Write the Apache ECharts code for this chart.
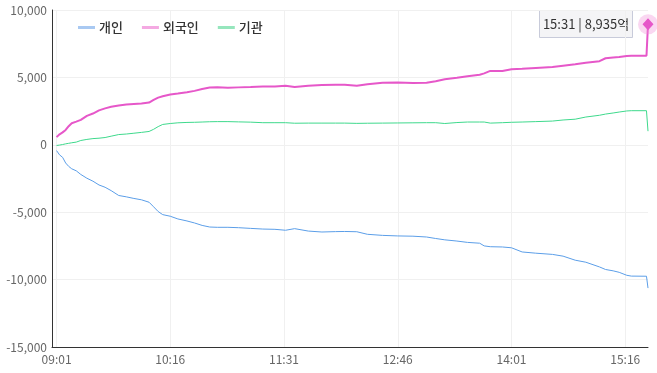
<!DOCTYPE html>
<html><head><meta charset="utf-8">
<script src="https://cdn.jsdelivr.net/npm/echarts@6/dist/echarts.min.js"></script>
<style>html,body{margin:0;padding:0;background:#fff}#c{width:657px;height:373px}</style>
</head><body><div id="c"></div>
<script>
// sampled readings (억 원), cumulative net buying
const sampleTimes = ['09:01','09:03','09:05','09:07','09:09','09:11','09:14','09:17','09:21','09:25','09:29','09:33','09:37','09:42','09:47','09:52','09:57','10:02','10:05','10:08','10:11','10:16','10:21','10:27','10:32','10:37','10:42','10:47','10:54','11:01','11:09','11:17','11:25','11:32','11:38','11:47','11:56','12:05','12:11','12:19','12:26','12:36','12:46','12:56','13:05','13:11','13:17','13:25','13:32','13:40','13:43','13:47','13:55','14:01','14:08','14:17','14:28','14:35','14:43','14:50','14:59','15:03','15:08','15:12','15:17','15:20','15:30','15:31'];
const personal = [-430,-750,-930,-1350,-1600,-1780,-1930,-2200,-2480,-2700,-2980,-3150,-3400,-3760,-3860,-3980,-4080,-4260,-4600,-4950,-5180,-5300,-5500,-5650,-5800,-5980,-6100,-6120,-6120,-6150,-6200,-6250,-6270,-6340,-6220,-6400,-6470,-6440,-6430,-6450,-6640,-6720,-6760,-6780,-6840,-6950,-7050,-7140,-7240,-7300,-7500,-7560,-7580,-7640,-7950,-8040,-8130,-8260,-8560,-8710,-9060,-9250,-9350,-9460,-9680,-9740,-9750,-10630];
const foreign = [570,780,920,1100,1380,1600,1720,1850,2150,2320,2550,2700,2820,2920,2990,3030,3070,3130,3330,3500,3600,3730,3800,3900,4000,4140,4250,4270,4230,4260,4290,4330,4330,4380,4280,4380,4430,4450,4450,4380,4500,4600,4630,4580,4600,4720,4870,4970,5080,5200,5300,5480,5470,5600,5640,5700,5770,5870,5980,6080,6200,6420,6480,6510,6580,6610,6610,8935];
const institution = [-50,-20,20,70,110,150,200,320,400,460,490,540,640,760,800,860,920,990,1150,1350,1510,1580,1630,1660,1670,1690,1710,1720,1720,1700,1680,1640,1640,1640,1600,1610,1610,1610,1610,1590,1600,1610,1620,1630,1640,1640,1580,1650,1690,1690,1690,1610,1640,1670,1690,1720,1760,1840,1900,2060,2190,2280,2360,2430,2510,2530,2530,1010];
const seriesNames = ['개인','외국인','기관'];
const tickTimes = ['09:01','10:16','11:31','12:46','14:01','15:16'];

// minute categories (axis starts slightly before the first reading)
const categories = [];
for (let t = 8*60+58; t <= 15*60+31; t++) {
  const h = Math.floor(t/60), m = t%60;
  categories.push(String(h).padStart(2,'0') + ':' + String(m).padStart(2,'0'));
}
const tickIdx = new Set(tickTimes.map(t => categories.indexOf(t)));
const showTick = (i) => tickIdx.has(i);
const toPairs = (vals) => sampleTimes.map((t,i) => [categories.indexOf(t), vals[i]]);

const FONT = '"Noto Sans CJK KR", "Noto Sans", sans-serif';
const colors = ['#5b9ee8','#e657c9','#3ed98c'];
const legendColors = ['#a9c9f2','#f4a9e2','#96e6bd'];
const lastI = sampleTimes.length - 1;
const lastTime = sampleTimes[lastI];
const lastForeign = foreign[lastI];

const chart = echarts.init(document.getElementById('c'), null, {renderer:'canvas'});
chart.setOption({
  animation: false,
  textStyle: {fontFamily: FONT},
  grid: {left: 52, right: 9, top: 10, bottom: 26},
  legend: {
    left: 73, top: 16, icon: 'rect', itemWidth: 17, itemHeight: 3, itemGap: 19,
    textStyle: {fontFamily: FONT, fontSize: 13, color: '#333', fontWeight: 500, padding: [0,0,0,-1]},
    data: seriesNames.map((n,i) => ({name: n, itemStyle: {color: legendColors[i]}}))
  },
  xAxis: {
    type: 'category', data: categories, boundaryGap: false,
    axisLine: {onZero: false, lineStyle: {color: '#333', width: 1}},
    axisTick: {show: false, interval: showTick},
    axisLabel: {interval: showTick, color: '#666', fontSize: 12, margin: 6, fontFamily: FONT},
    splitLine: {show: true, interval: showTick, lineStyle: {color: '#f0f0f0'}}
  },
  yAxis: {
    type: 'value', min: -15000, max: 10000, interval: 5000,
    axisLine: {show: true, lineStyle: {color: '#333', width: 1}},
    axisTick: {show: false},
    axisLabel: {color: '#666', fontSize: 12, margin: 5, fontFamily: FONT,
      formatter: v => v.toLocaleString('en-US')},
    splitLine: {lineStyle: {color: '#f0f0f0'}}
  },
  series: [
    {name: seriesNames[0], type: 'line', data: toPairs(personal), showSymbol: false, symbol: 'none',
     lineStyle: {color: colors[0], width: 1}, itemStyle: {color: colors[0]}},
    {name: seriesNames[1], type: 'line', data: toPairs(foreign), showSymbol: false, symbol: 'none',
     lineStyle: {color: colors[1], width: 2}, itemStyle: {color: colors[1]},
     markPoint: {
       silent: true, label: {show: false},
       data: [
         {coord: [categories.indexOf(lastTime), lastForeign], symbol: 'circle', symbolSize: 20,
          itemStyle: {color: 'rgba(240,140,215,0.35)'}},
         {coord: [categories.indexOf(lastTime), lastForeign], symbol: 'diamond', symbolSize: [11, 12],
          itemStyle: {color: colors[1]}}
       ]
     }},
    {name: seriesNames[2], type: 'line', data: toPairs(institution), showSymbol: false, symbol: 'none',
     lineStyle: {color: colors[2], width: 1}, itemStyle: {color: colors[2]}}
  ],
  graphic: [{
    type: 'group', left: 539, top: 10,
    children: [
      {type: 'rect', shape: {x: 0.5, y: 0.5, width: 93, height: 27},
       style: {fill: '#f4f4f6', stroke: '#c8cbda', lineWidth: 1}},
      {type: 'text', x: 47, y: 14.5,
       style: {text: lastTime + ' | ' + lastForeign.toLocaleString('en-US') + '억',
               font: '13px ' + FONT, fill: '#333', align: 'center', verticalAlign: 'middle'}}
    ]
  }]
});
</script></body></html>
